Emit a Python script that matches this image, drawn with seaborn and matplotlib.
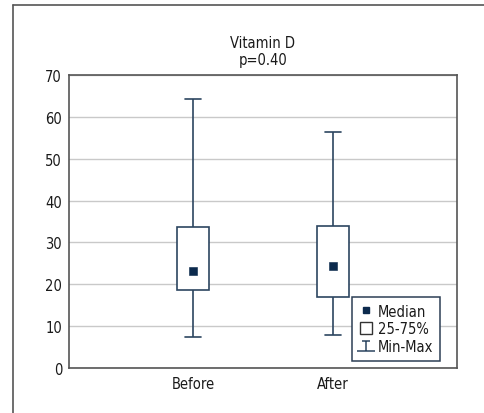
import matplotlib
matplotlib.use("Agg")
import matplotlib.pyplot as plt
from matplotlib.lines import Line2D
from matplotlib.path import Path
import seaborn as sns
import pandas as pd

# values
groups = ["Before", "After"]
mins = [7.4, 7.9]
q1s = [18.6, 16.9]
medians = [23.1, 24.3]
q3s = [33.6, 33.9]
maxs = [64.2, 56.3]
yticks = [0, 10, 20, 30, 40, 50, 60, 70]
title = "Vitamin D\np=0.40"
legend_labels = ["Median", "25-75%", "Min-Max"]

sns.set_style("white")
plt.rcParams["font.family"] = ["DejaVu Sans"]
plt.rcParams["font.stretch"] = "condensed"

# five values per group -> quartiles / min / max come out exactly
rows = []
for g, a, b, c, d, e in zip(groups, mins, q1s, medians, q3s, maxs):
    for v in (a, b, c, d, e):
        rows.append({"group": g, "value": v})
df = pd.DataFrame(rows)
med_df = pd.DataFrame({"group": groups, "value": medians})

line_col = "#2c4560"
dark = "#0c2a4d"
txt = "#1a1a1a"

fig = plt.figure(figsize=(4.84, 4.14), dpi=100)
ax = fig.add_axes([69 / 484, 1 - 369 / 414, 388 / 484, 293 / 414])

sns.boxplot(data=df, x="group", y="value", order=groups, whis=(0, 100),
            width=0.23, color="white", linecolor=line_col, linewidth=1.2,
            showfliers=False, medianprops={"visible": False},
            capprops={"color": line_col}, ax=ax)
sns.scatterplot(data=med_df, x="group", y="value", marker="s", s=26,
                color=dark, edgecolor=dark, zorder=5, ax=ax)

ax.set_xlim(-0.886, 1.886)
ax.set_ylim(0, 70)
ax.set_yticks(yticks)
ax.yaxis.grid(True, color="#c9c9c9", linewidth=1)
ax.set_axisbelow(True)
ax.set_xlabel("")
ax.set_ylabel("")
ax.tick_params(axis="both", length=0, labelsize=10.5, colors=txt)
ax.tick_params(axis="y", pad=5)
ax.tick_params(axis="x", pad=6)
for s in ax.spines.values():
    s.set_color("#555555")
    s.set_linewidth(1.2)

fig.text(263 / 484, 1 - 52 / 414, title, ha="center", va="center",
         fontsize=10.5, color=txt, linespacing=1.25)

# Min-Max glyph: short top bar, stem, long bottom bar
minmax = Path([(-0.45, 0.55), (0.45, 0.55), (0, 0.55), (0, -0.55),
               (-1, -0.55), (1, -0.55)],
              [Path.MOVETO, Path.LINETO, Path.MOVETO, Path.LINETO,
               Path.MOVETO, Path.LINETO])
handles = [
    Line2D([], [], linestyle="none", marker="s", markersize=5,
           color=dark),
    Line2D([], [], linestyle="none", marker="s", markersize=9,
           markerfacecolor="white", markeredgecolor="#333333",
           markeredgewidth=1),
    Line2D([], [], linestyle="none", marker=minmax, markersize=13,
           color=line_col, markeredgewidth=1.1),
]
leg = ax.legend(handles, legend_labels, loc="lower right",
                bbox_to_anchor=(0.955, 0.024), fancybox=False,
                edgecolor="#2c3e55", framealpha=1, fontsize=10.5,
                handlelength=1.0, handletextpad=0.3, borderpad=0.45,
                labelspacing=0.2, borderaxespad=0)
leg.get_frame().set_linewidth(1.1)
for t in leg.get_texts():
    t.set_color(txt)

# outer frame (left and top edges visible)
fig.add_artist(Line2D([13 / 484, 13 / 484], [0, 1 - 6 / 414],
                      color="#555555", linewidth=1.2))
fig.add_artist(Line2D([13 / 484, 1], [1 - 6 / 414, 1 - 6 / 414],
                      color="#555555", linewidth=1.2))

fig.savefig("out.png", dpi=100)
